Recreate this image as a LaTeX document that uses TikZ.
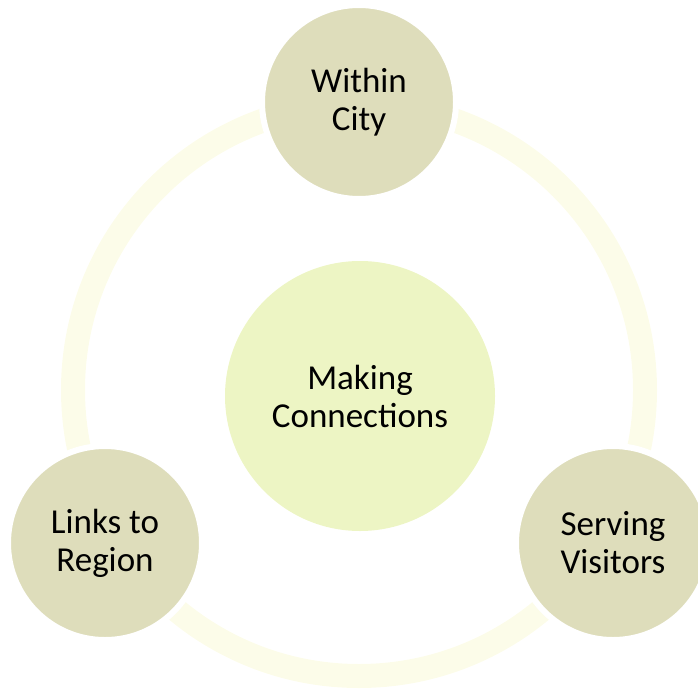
\documentclass[tikz,border=0pt]{standalone}
\usepackage{fontspec}
\setmainfont{Carlito}

\definecolor{ringyellow}{RGB}{252,252,233}
\definecolor{hubgreen}{RGB}{237,245,196}
\definecolor{khaki}{RGB}{222,221,187}

\begin{document}
\begin{tikzpicture}[x=1pt, y=-1pt, every node/.style={circle, align=center, text=black, font=\fontsize{35}{38}\selectfont}]
  \useasboundingbox (0,0) rectangle (697,698);
  \draw[ringyellow, line width=24pt] (359,390) circle[radius=286];
  \node[fill=hubgreen, minimum size=270pt] (hub) at (360,396) {Making\\Connections};
  \node[fill=khaki, draw=white, line width=6pt, minimum size=194pt] (city) at (359,102) {Within\\City};
  \node[fill=khaki, draw=white, line width=6pt, minimum size=194pt] (region) at (105,543) {Links to\\Region};
  \node[fill=khaki, draw=white, line width=6pt, minimum size=194pt] (visitors) at (613,543) {Serving\\Visitors};
\end{tikzpicture}
\end{document}
